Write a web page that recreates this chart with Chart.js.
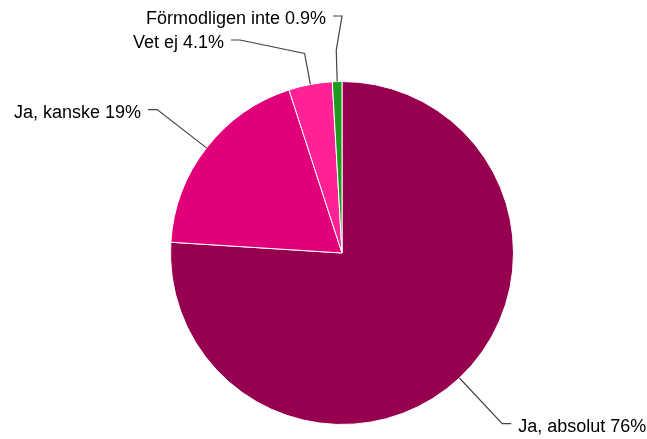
<!DOCTYPE html>
<html>
<head>
<meta charset="utf-8">
<script src="https://cdn.jsdelivr.net/npm/chart.js@4"></script>
<style>
  html, body { margin: 0; padding: 0; background: #fff; }
  #wrap { width: 647px; height: 439px; }
</style>
</head>
<body>
<div id="wrap"><canvas id="pieChart"></canvas></div>
<script>
// data
const categories = ['Ja, absolut', 'Ja, kanske', 'Vet ej', 'Förmodligen inte'];
const shares = [76, 19, 4.1, 0.9];
const sliceColors = ['#96004f', '#e2007a', '#ff2196', '#1f9a1f'];

// where each leader line bends (radius from centre) and, for the small ones, where the tail sits
const labelLayout = [
    {elbow: 234, side: 'right'},
    {elbow: 234, side: 'left'},
    {elbow: 203, side: 'left', tail: [-102, -213]},
    {elbow: 203, side: 'left', tail: [0, -237]}
];

const leaderLabels = {
    id: 'leaderLabels',
    afterDatasetsDraw(chart) {
        const ctx = chart.ctx;
        const arcs = chart.getDatasetMeta(0).data;
        ctx.save();
        ctx.strokeStyle = '#444';
        ctx.lineWidth = 1.2;
        ctx.fillStyle = '#000';
        ctx.font = '18px "Liberation Sans", Arial, sans-serif';
        ctx.textBaseline = 'middle';
        arcs.forEach((arc, i) => {
            const p = arc.getProps(['x', 'y', 'startAngle', 'endAngle', 'outerRadius'], true);
            const mid = (p.startAngle + p.endAngle) / 2;
            const lay = labelLayout[i];
            const ex = p.x + Math.cos(mid) * p.outerRadius;
            const ey = p.y + Math.sin(mid) * p.outerRadius;
            const bx = p.x + Math.cos(mid) * lay.elbow;
            const by = p.y + Math.sin(mid) * lay.elbow;
            let tx = bx, ty = by;
            if (lay.tail) { tx = p.x + lay.tail[0]; ty = p.y + lay.tail[1]; }
            const dir = lay.side === 'right' ? 1 : -1;
            const endX = tx + dir * 9;
            ctx.beginPath();
            ctx.moveTo(ex, ey);
            ctx.lineTo(bx, by);
            ctx.lineTo(tx, ty);
            ctx.lineTo(endX, ty);
            ctx.stroke();
            const txt = categories[i] + ' ' + shares[i] + '%';
            ctx.textAlign = lay.side === 'right' ? 'left' : 'right';
            ctx.fillText(txt, endX + dir * 7, ty + 3);
        });
        ctx.restore();
    }
};

new Chart(document.getElementById('pieChart'), {
    type: 'pie',
    data: {
        labels: categories,
        datasets: [{
            data: shares,
            backgroundColor: sliceColors,
            borderColor: '#fff',
            borderWidth: 1
        }]
    },
    options: {
        responsive: true,
        maintainAspectRatio: false,
        animation: false,
        layout: { padding: { top: 81, bottom: 14, left: 170, right: 133 } },
        plugins: { legend: { display: false }, tooltip: { enabled: false } }
    },
    plugins: [leaderLabels]
});
</script>
</body>
</html>
